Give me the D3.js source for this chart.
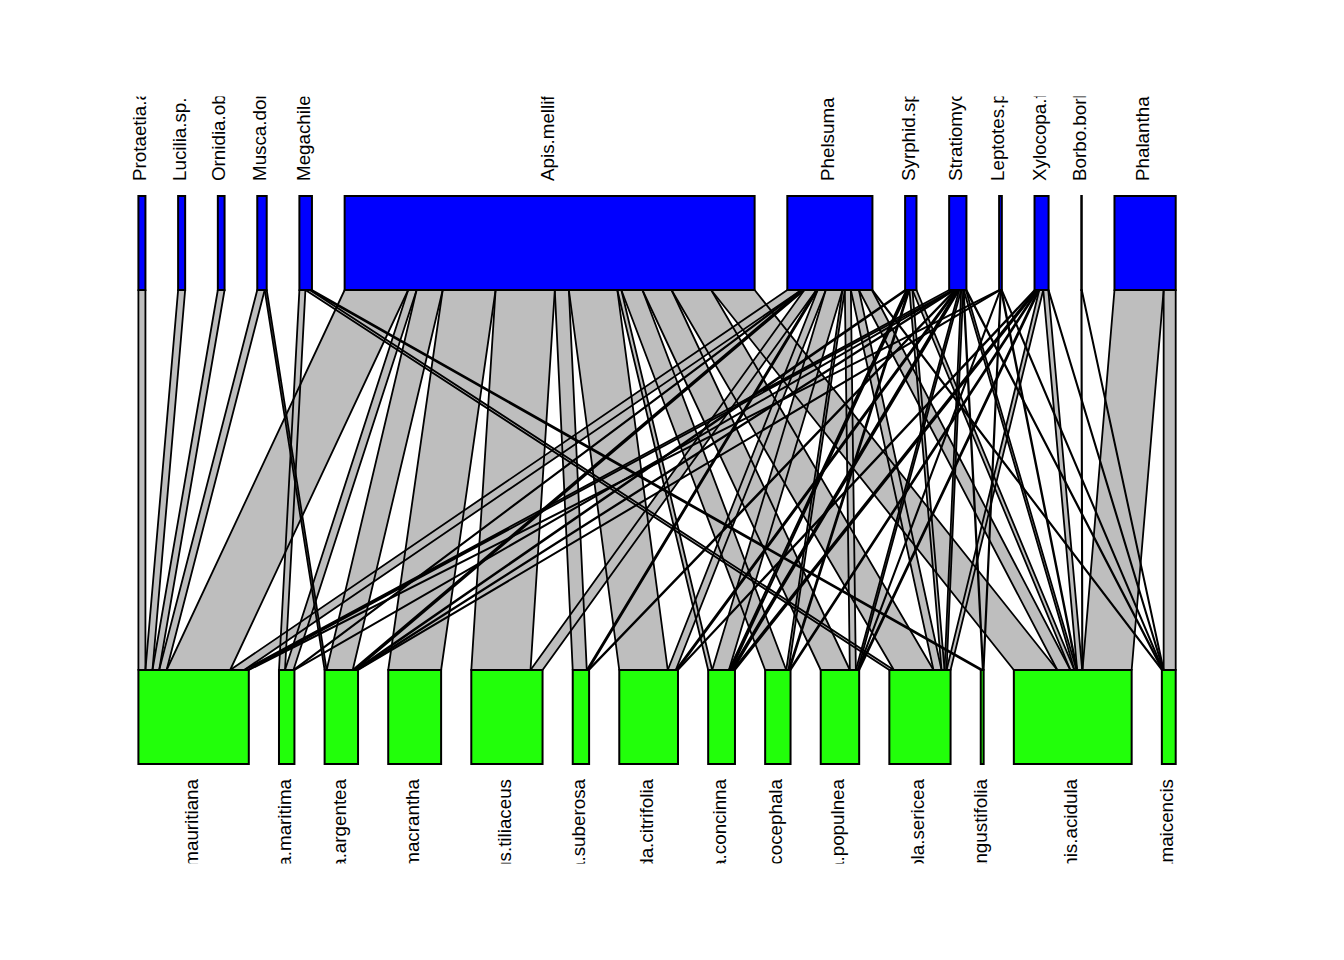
<!DOCTYPE html>
<html>
<head>
<meta charset="utf-8">
<script src="https://cdn.jsdelivr.net/npm/d3@7"></script>
<style>
  html, body { margin: 0; padding: 0; background: #ffffff; }
  svg { display: block; }
</style>
</head>
<body>
<svg id="chart" width="1344" height="960"></svg>
<script>
// ---------------- data ----------------
// higher level (pollinators, top boxes)
const higherSpecies = ["Protaetia.aurichalcea", "Lucilia.sp.1", "Ornidia.obesa", "Musca.domestica",
  "Megachile.sp", "Apis.mellifera", "Phelsuma.ornata", "Syrphid.sp.1", "Stratiomycidae.sp",
  "Leptotes.pirithous", "Xylocopa.fenestrata", "Borbo.borbonica", "Phalantha.phalantha"];

// lower level (plants, bottom boxes)
const lowerSpecies = ["Ziziphus.mauritiana", "Suriana.maritima", "Tournefortia.argentea",
  "Ipomoea.macrantha", "Hibiscus.tiliaceus", "Passiflora.suberosa", "Morinda.citrifolia",
  "Premna.concinna", "Leucaena.leucocephala", "Thespesia.populnea", "Scaevola.sericea",
  "Dodonaea.angustifolia", "Pemphis.acidula", "Stachytarpheta.jamaicencis"];

// interaction frequencies: one row per plant, columns follow higherSpecies
const web = [
  [7, 7, 6.7, 7.4, 0,   63.3, 14,   0,   4,   0.6, 0,   0,   0],
  [0, 0, 0,   0,   6,   8.4,  0.5,  0,   0.5, 0,   0,   0,   0],
  [0, 0, 0,   2,   0,   26,   2.5,  1.3, 1,   0.5, 0,   0,   0],
  [0, 0, 0,   0,   0,   52.7, 0,    0,   0,   0,   0,   0,   0],
  [0, 0, 0,   0,   0,   59,   12,   0,   0,   0,   0,   0,   0],
  [0, 0, 0,   0,   0,   14,   1.3,  0,   1,   0,   0,   0,   0],
  [0, 0, 0,   0,   0,   48.3, 8,    0,   1.5, 0,   0.7, 0,   0],
  [0, 0, 0,   0,   0,   4,    16.7, 2,   2,   0,   2,   0,   0],
  [0, 0, 0,   0,   0,   21,   2.3,  1,   0,   0,   1,   0,   0],
  [0, 0, 0,   0,   0,   29,   6,    0,   2,   0.3, 1,   0,   0],
  [0, 0, 0,   0,   4.5, 39.5, 8,    3,   2,   0,   4,   0,   0],
  [0, 0, 0,   0,   2,   0,    0,    0,   0.5, 0.4, 0,   0,   0],
  [0, 0, 0,   0,   0,   43.3, 13,   4,   2.2, 0.6, 5,   0.3, 49],
  [0, 0, 0,   0,   0,   0,    0.5,  0,   0.5, 0.3, 0.3, 0.2, 12]
];

// ---------------- layout ----------------
const svg = d3.select("#chart");
const nLow = lowerSpecies.length, nHigh = higherSpecies.length;
const rowSums = web.map(r => d3.sum(r));
const colSums = higherSpecies.map((_, j) => d3.sum(web, r => r[j]));
const total = d3.sum(rowSums);
const gapTotal = total * 0.6084;            // total white space share
const gapHigh = gapTotal / (nHigh - 1);
const gapLow = gapTotal / (nLow - 1);
const W = total + gapTotal;

const x = d3.scaleLinear().domain([0, W]).range([138.4, 1175.7]);
const y = d3.scaleOrdinal().domain(["highTop", "highBottom", "lowTop", "lowBottom"])
  .range([196, 290, 670, 764]);

// box starts (units)
const highStart = [], lowStart = [];
{ let s = 0; colSums.forEach((v, j) => { highStart[j] = s; s += v + gapHigh; }); }
{ let s = 0; rowSums.forEach((v, i) => { lowStart[i] = s; s += v + gapLow; }); }

// link geometry: inside a top box links follow plant order,
// inside a bottom box they follow pollinator order
const links = [];
const highOff = colSums.map(() => 0);
for (let i = 0; i < nLow; i++) {
  let lowOff = 0;
  for (let j = 0; j < nHigh; j++) {
    const v = web[i][j];
    if (v > 0) {
      const t0 = highStart[j] + highOff[j];
      const b0 = lowStart[i] + lowOff;
      links.push({ i, j, v, t0, t1: t0 + v, b0, b1: b0 + v });
    }
    highOff[j] += v;
    lowOff += v;
  }
}

const pathOf = l => {
  const p = d3.path();
  p.moveTo(x(l.t0), y("highBottom"));
  p.lineTo(x(l.t1), y("highBottom"));
  p.lineTo(x(l.b1), y("lowTop"));
  p.lineTo(x(l.b0), y("lowTop"));
  p.closePath();
  return p.toString();
};

const gLinks = svg.append("g");
gLinks.selectAll("path.fill").data(links).join("path")
  .attr("class", "fill")
  .attr("d", pathOf)
  .attr("fill", "#bebebe")
  .attr("stroke", "none");
gLinks.selectAll("path.edge").data(links).join("path")
  .attr("class", "edge")
  .attr("d", pathOf)
  .attr("fill", "none")
  .attr("stroke", "#000")
  .attr("stroke-width", 1.8)
  .attr("stroke-linejoin", "round");

// boxes
svg.append("g").selectAll("rect").data(higherSpecies).join("rect")
  .attr("x", (d, j) => x(highStart[j]))
  .attr("width", (d, j) => Math.max(0, x(highStart[j] + colSums[j]) - x(highStart[j])))
  .attr("y", y("highTop"))
  .attr("height", y("highBottom") - y("highTop"))
  .attr("fill", "#0000ff")
  .attr("stroke", "#000")
  .attr("stroke-width", 2);

svg.append("g").selectAll("rect").data(lowerSpecies).join("rect")
  .attr("x", (d, i) => x(lowStart[i]))
  .attr("width", (d, i) => Math.max(0, x(lowStart[i] + rowSums[i]) - x(lowStart[i])))
  .attr("y", y("lowTop"))
  .attr("height", y("lowBottom") - y("lowTop"))
  .attr("fill", "#22ff0a")
  .attr("stroke", "#000")
  .attr("stroke-width", 2);

// labels (clipped like the original)
const defs = svg.append("defs");
defs.append("clipPath").attr("id", "clipTop").append("rect")
  .attr("x", 0).attr("y", 96.5).attr("width", 1344).attr("height", 100);
defs.append("clipPath").attr("id", "clipBottom").append("rect")
  .attr("x", 0).attr("y", 766).attr("width", 1344).attr("height", 97.5);

svg.append("g").attr("clip-path", "url(#clipTop)")
  .selectAll("text").data(higherSpecies).join("text")
  .attr("transform", (d, j) => `translate(${(x(highStart[j]) + x(highStart[j] + colSums[j])) / 2},181) rotate(-90)`)
  .attr("y", 4)
  .attr("text-anchor", "start")
  .attr("font-family", "Liberation Sans, Arial, Helvetica, sans-serif")
  .attr("font-size", 18.8)
  .attr("fill", "#000")
  .text(d => d);

svg.append("g").attr("clip-path", "url(#clipBottom)")
  .selectAll("text").data(lowerSpecies).join("text")
  .attr("transform", (d, i) => `translate(${(x(lowStart[i]) + x(lowStart[i] + rowSums[i])) / 2},779) rotate(-90)`)
  .attr("y", 4.5)
  .attr("text-anchor", "end")
  .attr("font-family", "Liberation Sans, Arial, Helvetica, sans-serif")
  .attr("font-size", 18.8)
  .attr("fill", "#000")
  .text(d => d);
</script>
</body>
</html>
